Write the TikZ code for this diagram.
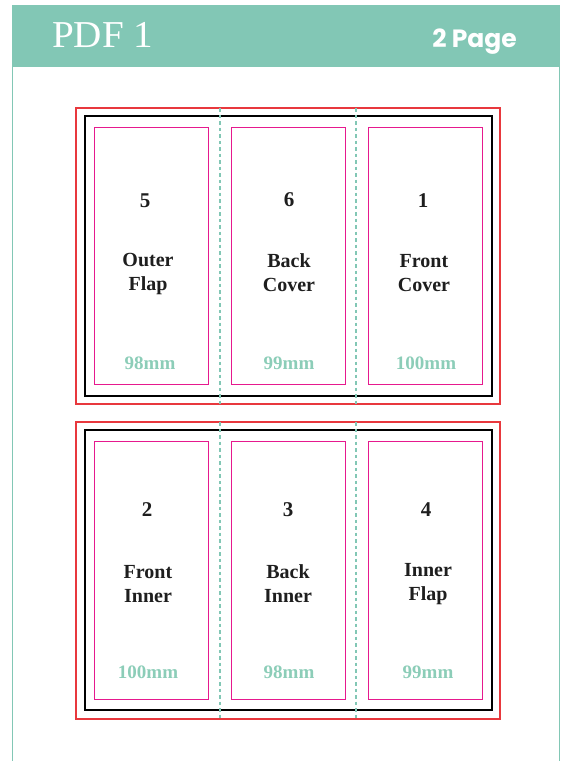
\documentclass[tikz,border=0pt]{standalone}
\usepackage{fontspec}
\setmainfont{Liberation Serif}
\newfontfamily\headsans{Poppins}
\definecolor{teal1}{HTML}{82C7B5}
\definecolor{mmteal}{HTML}{8CCDB8}
\definecolor{bleedred}{HTML}{E8383D}
\definecolor{safemag}{HTML}{E6198E}
\definecolor{ink}{HTML}{1E1E1E}
\tikzset{
  bleed/.style={draw=bleedred, line width=1.4pt},
  trim/.style={draw=black, line width=1.4pt},
  safe/.style={draw=safemag, line width=0.9pt},
  fold/.style={draw=teal1, line width=1.4pt, dash pattern=on 3.5pt off 3pt},
  num/.style={font=\bfseries\fontsize{21}{22}\selectfont, text=ink},
  lbl/.style={font=\bfseries\fontsize{20}{24}\selectfont, text=ink, align=center},
  mm/.style={font=\bfseries\fontsize{19}{20}\selectfont, text=mmteal},
}
\begin{document}
\begin{tikzpicture}[x=1pt,y=-1pt]
\useasboundingbox (0,0) rectangle (566,761);
% header and frame
\fill[teal1] (12,5) rectangle (560,67);
\draw[teal1, line width=1.3pt] (12.6,67) -- (12.6,761);
\draw[teal1, line width=1.3pt] (559.4,67) -- (559.4,761);
\node[anchor=base west, text=white, font=\fontsize{38}{40}\selectfont, inner sep=0, xscale=1.03] (title) at (52,47) {PDF 1};
\node[anchor=base east, text=white, font=\headsans\bfseries\fontsize{25}{27}\selectfont, inner sep=0] (pages) at (517,47) {2 Page};

% ---- top spread ----
\draw[bleed] (76,108) rectangle (500,404);
\draw[trim] (85,116) rectangle (492,396);
\coordinate (fA1t) at (220,108); \coordinate (fA1b) at (220,404);
\coordinate (fA2t) at (356,108); \coordinate (fA2b) at (356,404);
\draw[fold] (fA1t) -- (fA1b);
\draw[fold] (fA2t) -- (fA2b);
\draw[safe] (94,127) rectangle (208,384);
\draw[safe] (231,127) rectangle (345,384);
\draw[safe] (368,127) rectangle (482,384);

\node[num] (n5) at (145,201) {5};
\node[lbl] (t5) at (148,274) {Outer\\Flap};
\node[mm] (m5) at (150,363) {98mm};
\node[num] (n6) at (289,200) {6};
\node[lbl] (t6) at (289,273) {Back\\Cover};
\node[mm] (m6) at (289,363) {99mm};
\node[num] (n1) at (423,201) {1};
\node[lbl] (t1) at (424,273) {Front\\Cover};
\node[mm] (m1) at (426,363) {100mm};

% ---- bottom spread ----
\draw[bleed] (76,422) rectangle (500,719);
\draw[trim] (85,430) rectangle (492,710);
\coordinate (fB1t) at (220,422); \coordinate (fB1b) at (220,719);
\coordinate (fB2t) at (356,422); \coordinate (fB2b) at (356,719);
\draw[fold] (fB1t) -- (fB1b);
\draw[fold] (fB2t) -- (fB2b);
\draw[safe] (94,441) rectangle (208,699);
\draw[safe] (231,441) rectangle (345,699);
\draw[safe] (368,441) rectangle (482,699);

\node[num] (n2) at (147,510) {2};
\node[lbl] (t2) at (148,584) {Front\\Inner};
\node[mm] (m2) at (148,672) {100mm};
\node[num] (n3) at (288,510) {3};
\node[lbl] (t3) at (288,584) {Back\\Inner};
\node[mm] (m3) at (289,672) {98mm};
\node[num] (n4) at (426,510) {4};
\node[lbl] (t4) at (428,584) {Inner\\Flap};
\node[mm] (m4) at (428,672) {99mm};
\end{tikzpicture}
\end{document}
